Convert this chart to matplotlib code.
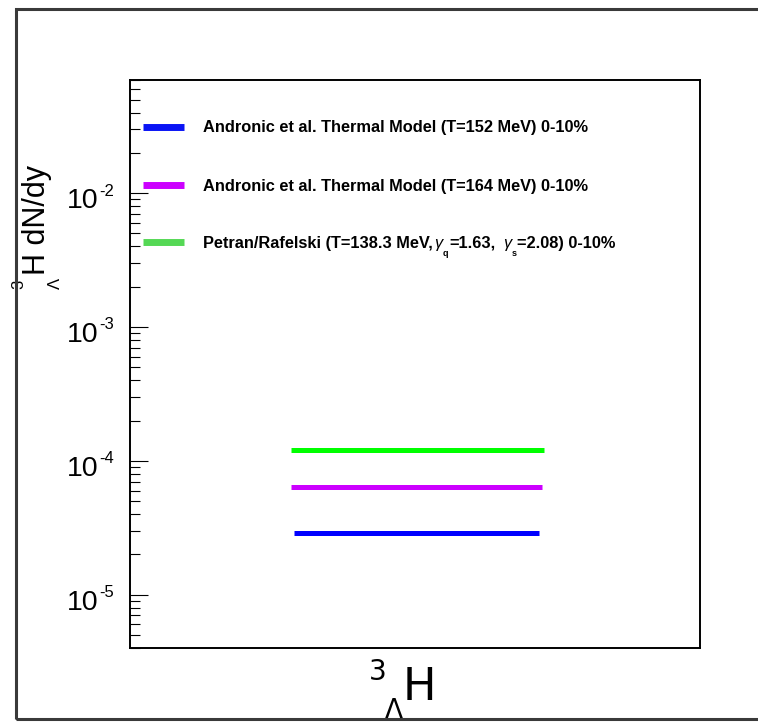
import math
import matplotlib
matplotlib.use("Agg")
import matplotlib.pyplot as plt
from matplotlib.lines import Line2D
from matplotlib.patches import Rectangle

# ---- data -------------------------------------------------------------
model_labels = [
    "Andronic et al. Thermal Model (T=152 MeV) 0-10%",
    "Andronic et al. Thermal Model (T=164 MeV) 0-10%",
    "Petran/Rafelski",
]
model_yields = [2.9e-5, 6.4e-5, 1.2e-4]          # hypertriton dN/dy
span_lo = [0.288, 0.282, 0.282]                  # horizontal extent of each band
span_hi = [0.718, 0.723, 0.727]
line_colors = ["#0000ff", "#cc00ff", "#00ff00"]
legend_colors = ["#0a14f5", "#cc00ff", "#55d855"]
y_decades = [1e-5, 1e-4, 1e-3, 1e-2]
y_range = (4.0e-6, 7.0e-2)

# ---- figure -----------------------------------------------------------
W, H = 758, 723
fig = plt.figure(figsize=(W / 100, H / 100), dpi=100)
fig.patch.set_facecolor("white")


def fx(px):
    return px / W


def fy(py):
    return 1 - py / H


ax = fig.add_axes([fx(130), fy(648), 570 / W, 568 / H])
ax.set_yscale("log")
ax.set_ylim(*y_range)
ax.set_xlim(0, 1)
for s in ax.spines.values():
    s.set_linewidth(1.4)
    s.set_color("black")

ax.tick_params(axis="x", bottom=False, top=False, labelbottom=False)
ax.tick_params(axis="y", which="major", direction="in", length=13, width=0.8,
               left=True, right=False, labelleft=False)
ax.tick_params(axis="y", which="minor", direction="in", length=7.2, width=0.8,
               left=True, right=False, labelleft=False)
ax.yaxis.set_major_locator(matplotlib.ticker.LogLocator(base=10, numticks=20))
ax.yaxis.set_minor_locator(matplotlib.ticker.LogLocator(base=10, subs=range(2, 10), numticks=20))

# model bands
ax.hlines(model_yields, span_lo, span_hi, colors=line_colors, linewidth=3.6,
          capstyle="butt")

# decade tick labels: "10" with a small raised exponent
for v in y_decades:
    exp = f"{int(round(math.log10(v)))}"
    ax.annotate("10", xy=(0, v), xycoords=("axes fraction", "data"),
                xytext=(-31.5, -15), textcoords="offset pixels",
                ha="right", va="baseline", fontsize=20.5, family="Liberation Sans")
    ax.annotate(exp, xy=(0, v), xycoords=("axes fraction", "data"),
                xytext=(-31, -2.5), textcoords="offset pixels",
                ha="left", va="baseline", fontsize=12, family="Liberation Sans")

# ---- legend -----------------------------------------------------------
leg_rows = [126.7, 185.0, 242.3]
for yy, c in zip(leg_rows, legend_colors):
    fig.add_artist(Line2D([fx(143), fx(184)], [fy(yy), fy(yy)], color=c,
                          linewidth=5.0, solid_capstyle="butt"))

bold = dict(family="Liberation Sans", weight="bold", fontsize=11.75, color="black")
for lab, yy in zip(model_labels[:2], leg_rows[:2]):
    fig.text(fx(203), fy(yy + 5.6), lab, ha="left", va="baseline", **bold)

renderer = fig.canvas.get_renderer()
base = leg_rows[2] + 5.6
gamma = dict(family="Liberation Sans", fontsize=11.75, style="italic")
small = dict(family="Liberation Sans", fontsize=6.5, weight="bold")
pieces = [
    (model_labels[2] + " (T=138.3 MeV,", bold, 0, 1.5),
    ("γ", gamma, 0, 0.3),
    ("q", small, 8, 1.0),
    ("=1.63,", bold, 0, 7),
    ("γ", gamma, 0, 0.3),
    ("s", small, 8, 1.0),
    ("=2.08) 0-10%", bold, 0, 0),
]
xpos = 203
for txt, props, drop, gap in pieces:
    t = fig.text(fx(xpos), fy(base + drop), txt, ha="left", va="baseline", **props)
    bb = t.get_window_extent(renderer)
    xpos = bb.x1 + gap

# ---- axis titles ------------------------------------------------------
# y title: pre-scripted hypertriton symbol, read bottom to top
ytitle = dict(rotation=90, rotation_mode="anchor", ha="left", va="baseline",
              family="Liberation Sans")
fig.text(fx(45), fy(275), "H dN/dy", fontsize=22, **ytitle)
fig.text(fx(23), fy(289), "3", fontsize=12, **ytitle)
fig.text(fx(60), fy(289), "Λ", fontsize=12, **ytitle)

# x title
fig.text(fx(369), fy(680), "3", fontsize=20, family="DejaVu Sans",
         ha="left", va="baseline")
fig.text(fx(403), fy(700), "H", fontsize=32, family="DejaVu Sans",
         ha="left", va="baseline")
fig.text(fx(385), fy(718.5), "Λ", fontsize=19, family="DejaVu Sans",
         ha="left", va="baseline")

# canvas frame
frame = Rectangle((fx(16), fy(719)), fx(800) - fx(16), fy(9) - fy(719),
                  transform=fig.transFigure, fill=False, edgecolor="#3a3a3a",
                  linewidth=2.2, zorder=10)
fig.add_artist(frame)

fig.savefig("out.png", dpi=100)
